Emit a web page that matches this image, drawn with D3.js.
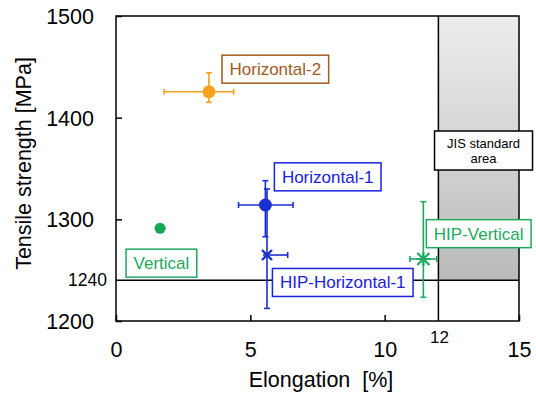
<!DOCTYPE html>
<html><head><meta charset="utf-8">
<script src="https://cdn.jsdelivr.net/npm/d3@7"></script>
<style>body{margin:0;background:#fff}svg{display:block}text{font-family:"Liberation Sans",Arial,sans-serif}</style>
</head><body>
<svg id="c" width="536" height="393"></svg>
<script>
// ---- data ----
const series = ["Horizontal-2","Horizontal-1","HIP-Horizontal-1","Vertical","HIP-Vertical"];
const elongation = [3.46, 5.56, 5.62, 1.64, 11.44];
const strength   = [1425.5, 1314.1, 1264.9, 1291.2, 1261.0];
const xErrMinus  = [1.67, 1.0, 0.15, 0.0, 0.5];
const xErrPlus   = [0.92, 1.03, 0.77, 0.2, 0.5];
const yErrPlus   = [18.7, 23.9, 65.0, 0, 56.4];
const yErrMinus  = [10.4, 31.2, 52.5, 0, 37.7];
const markerType = ["circle","circle","x","circle","asterisk"];
const seriesColor= ["#f7a11a","#1a2fd0","#1a2fd0","#12a854","#1eaa60"];
const labelColor = ["#a35a1e","#1a22dd","#1a22dd","#1eaa60","#1eaa60"];
const labelX     = [5.93, 7.88, 8.44, 1.69, 13.5];
const labelY     = [1447.7, 1341.8, 1237.9, 1256.9, 1285.9];
const xTicks = [0,5,10,15];
const yTicks = [1200,1300,1400,1500];
const jisMinElong = 12, jisMinStrength = 1240;
const jisLabel = ["JIS standard","area"];
const jisLabelPos = [13.68, 1367.7];

// ---- scales ----
const svg = d3.select("#c");
const x = d3.scaleLinear().domain([0,15]).range([116,519]);
const y = d3.scaleLinear().domain([1200,1500]).range([321,16]);

const defs = svg.append("defs");
const grad = defs.append("linearGradient").attr("id","g").attr("x1",0).attr("y1",0).attr("x2",0).attr("y2",1);
grad.append("stop").attr("offset","0%").attr("stop-color","#ededed");
grad.append("stop").attr("offset","100%").attr("stop-color","#bababa");

// JIS area
svg.append("rect").attr("x",x(jisMinElong)).attr("y",y(1500))
  .attr("width",x(15)-x(jisMinElong)).attr("height",y(jisMinStrength)-y(1500))
  .attr("fill","url(#g)");

// axes
const xa = svg.append("g").attr("transform",`translate(0,${y(1200)})`)
  .call(d3.axisBottom(x).tickValues(xTicks).tickFormat(d3.format("d")).tickSizeInner(-6).tickSizeOuter(0).tickPadding(21));
const ya = svg.append("g").attr("transform",`translate(${x(0)},0)`)
  .call(d3.axisLeft(y).tickValues(yTicks).tickFormat(d3.format("d")).tickSizeInner(-6).tickSizeOuter(0).tickPadding(22));
[xa,ya].forEach(a=>{a.select(".domain").remove();a.selectAll("line").attr("stroke","#000").attr("stroke-width",1.5);
  a.selectAll("text").attr("font-size",21.5).attr("fill","#000").attr("font-family","Liberation Sans, Arial, sans-serif");});
xa.selectAll("text").attr("dy","0.71em");
ya.selectAll("text").attr("dy","0.35em");

// extra tick labels
svg.append("text").attr("x",x(jisMinElong)+1).attr("y",343.3).attr("text-anchor","middle")
  .attr("font-size",17).text(jisMinElong);
svg.append("text").attr("x",107).attr("y",y(jisMinStrength)).attr("dy","0.35em").attr("text-anchor","end")
  .attr("font-size",17.5).text(jisMinStrength);

// lines
svg.append("line").attr("x1",x(0)).attr("x2",x(15)).attr("y1",y(jisMinStrength)).attr("y2",y(jisMinStrength))
  .attr("stroke","#000").attr("stroke-width",1.5);
svg.append("line").attr("x1",x(jisMinElong)).attr("x2",x(jisMinElong)).attr("y1",y(1500)).attr("y2",y(1200))
  .attr("stroke","#000").attr("stroke-width",1.5);
svg.append("rect").attr("x",x(0)).attr("y",y(1500)).attr("width",x(15)-x(0)).attr("height",y(1200)-y(1500))
  .attr("fill","none").attr("stroke","#000").attr("stroke-width",1.5);

// axis titles
svg.append("text").attr("x",321).attr("y",387).attr("text-anchor","middle").attr("font-size",21.5)
  .attr("xml:space","preserve").style("white-space","pre").text("Elongation  [%]");
svg.append("text").attr("transform","translate(30.5,163.5) rotate(-90)").attr("text-anchor","middle")
  .attr("font-size",21.5).text("Tensile strength [MPa]");

// error bars & markers
const cap = 3;
series.forEach((s,i)=>{
  const g = svg.append("g").attr("stroke",seriesColor[i]).attr("stroke-width",1.6).attr("fill","none");
  const cx = x(elongation[i]), cy = y(strength[i]);
  if (xErrMinus[i]+xErrPlus[i] > 0) {
    const x1 = x(elongation[i]-xErrMinus[i]), x2 = x(elongation[i]+xErrPlus[i]);
    g.append("line").attr("x1",x1).attr("x2",x2).attr("y1",cy).attr("y2",cy);
    if (xErrMinus[i] > 0.3) g.append("line").attr("x1",x1).attr("x2",x1).attr("y1",cy-cap).attr("y2",cy+cap);
    if (xErrPlus[i] > 0.3) g.append("line").attr("x1",x2).attr("x2",x2).attr("y1",cy-cap).attr("y2",cy+cap);
  }
  if (yErrMinus[i]+yErrPlus[i] > 0) {
    const y1 = y(strength[i]+yErrPlus[i]), y2 = y(strength[i]-yErrMinus[i]);
    g.append("line").attr("x1",cx).attr("x2",cx).attr("y1",y1).attr("y2",y2);
    [y1,y2].forEach(yy=>g.append("line").attr("x1",cx-cap).attr("x2",cx+cap).attr("y1",yy).attr("y2",yy));
  }
  const m = svg.append("g").attr("transform",`translate(${cx},${cy})`);
  if (markerType[i]==="circle") {
    m.append("circle").attr("r", i===3?5.5:6.5).attr("fill",seriesColor[i]);
  } else if (markerType[i]==="x") {
    m.append("path").attr("d","M-5,-5L5,5M-5,5L5,-5").attr("stroke",seriesColor[i]).attr("stroke-width",2.4);
  } else {
    m.append("path").attr("d","M-6,-6L6,6M-6,6L6,-6M0,-7L0,7M-7,0L7,0").attr("stroke",seriesColor[i]).attr("stroke-width",2.2);
  }
});

// labels
series.forEach((s,i)=>{
  const g = svg.append("g").attr("transform",`translate(${x(labelX[i])},${y(labelY[i])})`);
  const r = g.append("rect");
  const t = g.append("text").attr("text-anchor","middle").attr("dy","0.35em").attr("font-size",17)
    .attr("fill",labelColor[i]).text(s);
  const w = t.node().getComputedTextLength() + 15, h = 28;
  r.attr("x",-w/2).attr("y",-h/2).attr("width",w).attr("height",h).attr("fill","#fff")
    .attr("stroke",labelColor[i]).attr("stroke-width",1.5);
});

// JIS label
{
  const g = svg.append("g").attr("transform",`translate(${x(jisLabelPos[0])},${y(jisLabelPos[1])})`);
  g.append("rect").attr("x",-49).attr("y",-19.5).attr("width",98).attr("height",39)
    .attr("fill","#fff").attr("stroke","#000").attr("stroke-width",1.5);
  jisLabel.forEach((l,k)=>g.append("text").attr("text-anchor","middle").attr("y",-2.5+k*15)
    .attr("font-size",13).attr("fill","#000").text(l));
}
</script>
</body></html>
